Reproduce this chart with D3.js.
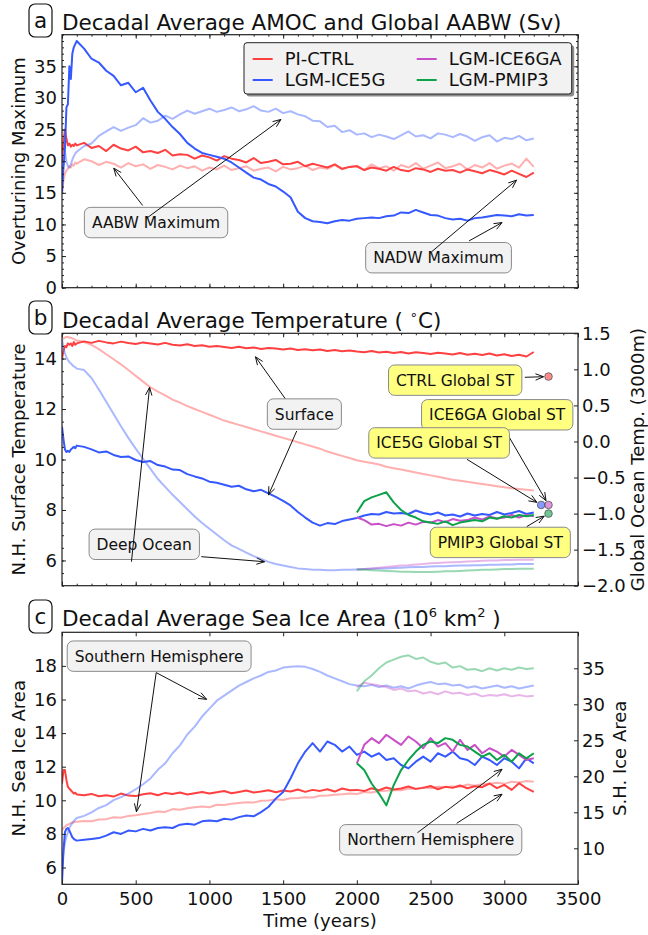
<!DOCTYPE html>
<html>
<head>
<meta charset="utf-8">
<script src="https://cdn.jsdelivr.net/npm/d3@7"></script>
<style>
  body { margin: 0; background: #fff; }
  svg { display: block; font-family: "DejaVu Sans", sans-serif; }
</style>
</head>
<body>
<svg id="chart" width="648" height="935"></svg>
<script>
// time axis of the decadal means (0-90 every 10 yr, then every 50 yr)
const years = d3.range(0, 100, 10).concat(d3.range(100, 3201, 50));
const yearsLgm = d3.range(2000, 3201, 50);

const experiments = ["PI-CTRL", "LGM-ICE5G", "LGM-ICE6GA", "LGM-PMIP3"];
const expColors = ["#ff4040", "#3558ff", "#c84fc8", "#0da14a"];

// (a) overturning maxima, Sv
const aCtrlNadw = [
  20, 23, 25, 23.5, 22.5, 22.8, 22.3, 22.6, 22.4, 22.8, 22.5,
  22.9, 22.1, 22.4, 21.6, 22.6, 22.0, 21.7, 22.3, 21.4, 21.6,
  21.3, 21.8, 20.9, 21.1, 21.0, 20.4, 20.9, 20.6, 20.1, 20.8,
  20.4, 20.2, 19.8, 20.5, 19.7, 19.9, 20.2, 19.5, 19.6, 19.9,
  19.2, 19.6, 19.3, 19.0, 19.5, 18.8, 19.1, 19.2, 18.6, 19.0,
  18.8, 18.5, 19.1, 18.6, 18.4, 18.9, 18.7, 18.3, 18.8, 18.5,
  18.6, 18.2, 18.7, 18.4, 18.1, 18.6, 18.3, 17.9, 18.5, 18.0,
  17.5, 18.2];
const aCtrlAabw = [
  15, 17, 18, 18.5, 18.8, 19.2, 19.0, 19.5, 19.3, 19.8, 19.6,
  20.3, 20.0, 19.4, 19.9, 19.6, 19.0, 19.7, 19.2, 19.5, 18.8,
  19.4, 19.1, 18.7, 19.3, 18.9, 19.2, 18.5, 19.0, 18.7, 19.3,
  18.6, 18.9, 19.2, 18.5, 18.8, 19.0, 18.4, 19.1, 18.7, 18.9,
  19.3, 18.6, 19.0, 18.8, 19.4, 18.7, 19.1, 19.3, 18.6, 19.5,
  18.9, 19.2, 18.5, 19.4, 19.0, 19.7, 18.8, 19.3, 19.8, 18.9,
  19.2, 19.6, 18.7, 19.4, 19.0, 19.7, 18.8, 19.3, 19.6, 19.0,
  20.4, 19.1];
const aIce5gNadw = [
  15, 19, 22, 28.5, 29, 35, 33, 37, 38, 38.5, 39,
  37.8, 36.2, 35.6, 34.3, 33.5, 32.0, 32.4, 30.9, 31.6, 29.6,
  27.8, 26.7, 25.4, 24.3, 22.9, 22.0, 21.3, 21.0, 20.7, 20.4,
  19.8, 19.0, 18.2, 17.4, 17.1, 16.4, 16.0, 15.2, 14.3, 12.0,
  11.0, 10.5, 10.4, 10.2, 10.5, 10.7, 10.6, 10.9, 11.0, 11.1,
  11.0, 11.3, 11.4, 11.9, 11.8, 12.3, 11.9, 11.5, 11.4, 11.0,
  10.8, 10.9, 10.6, 11.0, 11.1, 11.3, 11.5, 11.4, 11.3, 11.6,
  11.4, 11.5];
const aIce5gAabw = [
  17, 20, 21.5, 20, 19.2, 19, 19.5, 20.2, 20.8, 21.2, 21.5,
  22.4, 22.8, 24.0, 24.7, 25.4, 24.8, 25.3, 25.7, 26.8, 26.1,
  26.4, 27.2, 26.7, 27.4, 28.0, 27.5, 27.9, 28.3, 27.8, 28.1,
  28.5, 27.9, 28.2, 28.7, 28.0, 27.8, 28.3, 27.6, 27.9, 27.4,
  27.1, 26.4, 26.3, 25.4, 25.6, 24.6, 24.9, 24.2, 24.4, 23.8,
  24.2, 23.9, 23.5, 24.1, 24.7, 23.9, 24.1, 23.6, 24.4, 24.2,
  23.8, 24.3, 23.9, 23.2, 23.8, 24.1, 23.1, 23.7, 23.5, 24.0,
  23.3, 23.6];

// (b) N.H. surface temperature (left axis) and 3000 m ocean temperature (right axis)
const bCtrlSurf = [
  14.0, 14.3, 14.5, 14.45, 14.6, 14.55, 14.6, 14.5, 14.65, 14.55, 14.6,
  14.68, 14.62, 14.7, 14.64, 14.6, 14.67, 14.62, 14.58, 14.64, 14.6,
  14.56, 14.62, 14.55, 14.52, 14.57, 14.5, 14.53, 14.47, 14.5, 14.46,
  14.42, 14.47, 14.41, 14.44, 14.38, 14.42, 14.4, 14.36, 14.4, 14.34,
  14.37, 14.33, 14.36, 14.3, 14.34, 14.29, 14.32, 14.28, 14.25, 14.3,
  14.24, 14.27, 14.22, 14.26, 14.2, 14.25, 14.22, 14.18, 14.23, 14.2,
  14.16, 14.22, 14.15, 14.19, 14.14, 14.2, 14.12, 14.17, 14.1, 14.15,
  14.08, 14.26];
const bIce5gSurf = [
  11.3, 10.8, 10.4, 10.3, 10.35, 10.3, 10.4, 10.45, 10.5, 10.45, 10.55,
  10.5, 10.4, 10.28, 10.32, 10.18, 10.1, 10.12, 9.98, 9.9, 9.94,
  9.78, 9.72, 9.6, 9.58, 9.42, 9.33, 9.25, 9.12, 9.08, 9.0,
  8.92, 8.96, 8.82, 8.74, 8.8, 8.66, 8.52, 8.36, 8.18, 7.92,
  7.7, 7.5, 7.38, 7.48, 7.44, 7.56, 7.62, 7.68, 7.78, 7.84,
  7.82, 7.92, 7.86, 7.88, 7.84, 7.98, 7.88, 7.82, 7.9, 7.78,
  7.82, 7.74, 7.86, 7.78, 7.84, 7.8, 7.92, 7.82, 7.88, 7.96,
  7.84, 7.9];
const bIce6gaSurf = [7.7, 7.6, 7.42, 7.45, 7.36, 7.44, 7.38, 7.5, 7.42, 7.53, 7.5, 7.6, 7.52,
  7.64, 7.57, 7.6, 7.7, 7.62, 7.74, 7.66, 7.7, 7.8, 7.7, 7.8, 7.75];
const bPmip3Surf = [7.9, 8.35, 8.5, 8.6, 8.7, 8.3, 8.0, 7.8, 7.7, 7.55, 7.5, 7.45, 7.55,
  7.4, 7.5, 7.55, 7.6, 7.55, 7.7, 7.65, 7.75, 7.7, 7.8, 7.75, 7.8];
const bCtrlDeep = [
  1.42, 1.43, 1.44, 1.45, 1.45, 1.44, 1.44, 1.43, 1.42, 1.41, 1.40,
  1.38, 1.34, 1.28, 1.21, 1.14, 1.07, 0.99, 0.91, 0.83, 0.75,
  0.69, 0.64, 0.58, 0.54, 0.49, 0.45, 0.41, 0.37, 0.33, 0.29,
  0.26, 0.23, 0.20, 0.17, 0.14, 0.11, 0.08, 0.05, 0.02, -0.01,
  -0.04, -0.07, -0.10, -0.14, -0.17, -0.20, -0.23, -0.26, -0.28, -0.30,
  -0.32, -0.35, -0.37, -0.39, -0.41, -0.43, -0.45, -0.47, -0.49, -0.51,
  -0.53, -0.545, -0.56, -0.575, -0.59, -0.605, -0.62, -0.635, -0.65, -0.66,
  -0.67, -0.68];
const bIce5gDeep = [
  1.42, 1.3, 1.22, 1.17, 1.13, 1.10, 1.08, 1.06, 1.04, 1.03, 1.01,
  0.99, 0.88, 0.72, 0.55, 0.38, 0.21, 0.05, -0.10, -0.24, -0.38,
  -0.52, -0.63, -0.74, -0.84, -0.94, -1.04, -1.13, -1.21, -1.29, -1.37,
  -1.44, -1.49, -1.54, -1.59, -1.63, -1.67, -1.70, -1.72, -1.74, -1.76,
  -1.77, -1.78, -1.78, -1.785, -1.785, -1.78, -1.78, -1.775, -1.77, -1.765,
  -1.76, -1.76, -1.755, -1.75, -1.745, -1.74, -1.74, -1.735, -1.73, -1.73,
  -1.725, -1.72, -1.72, -1.715, -1.715, -1.71, -1.71, -1.705, -1.705, -1.70,
  -1.70, -1.70];
const bIce6gaDeep = [-1.775, -1.77, -1.76, -1.75, -1.74, -1.73, -1.72, -1.715, -1.705, -1.70,
  -1.69, -1.685, -1.68, -1.675, -1.67, -1.665, -1.66, -1.655, -1.65, -1.65, -1.645, -1.645,
  -1.64, -1.64, -1.64];
const bPmip3Deep = [-1.775, -1.78, -1.785, -1.79, -1.795, -1.80, -1.805, -1.805, -1.81, -1.81,
  -1.81, -1.805, -1.80, -1.80, -1.795, -1.79, -1.785, -1.78, -1.78, -1.775, -1.77, -1.77,
  -1.765, -1.765, -1.765];
// global surface temperature markers (right axis)
const stYears = [3300, 3250, 3300, 3300];
const stValues = [0.9, -0.88, -0.88, -1.0];

// (c) sea ice area, N.H. left axis, S.H. right axis
const cCtrlNh = [
  11.0, 11.8, 11.8, 11.2, 10.8, 10.7, 10.6, 10.5, 10.4, 10.45, 10.35,
  10.3, 10.38, 10.24, 10.3, 10.22, 10.4, 10.28, 10.25, 10.36, 10.42,
  10.3, 10.44, 10.38, 10.46, 10.34, 10.42, 10.5, 10.4, 10.48, 10.55,
  10.42, 10.5, 10.58, 10.46, 10.52, 10.6, 10.48, 10.58, 10.52, 10.64,
  10.5, 10.62, 10.56, 10.66, 10.52, 10.7, 10.6, 10.62, 10.55, 10.72,
  10.6, 10.76, 10.64, 10.7, 10.82, 10.68, 10.74, 10.85, 10.66, 10.8,
  10.74, 10.88, 10.72, 10.84, 10.78, 11.0, 10.72, 10.92, 10.62, 11.02,
  10.72, 10.5];
const cCtrlSh = [
  12.5, 12.8, 13.0, 13.2, 13.3, 13.4, 13.5, 13.6, 13.6, 13.7, 13.7,
  13.8, 13.75, 14.0, 14.05, 14.3, 14.25, 14.5, 14.6, 14.75, 14.9,
  15.1, 15.05, 15.45, 15.35, 15.55, 15.7, 15.8, 15.7, 16.05, 16.0,
  16.2, 16.3, 16.4, 16.35, 16.6, 16.65, 16.8, 16.7, 16.95, 17.0,
  17.1, 17.05, 17.3, 17.35, 17.45, 17.5, 17.6, 17.55, 17.8, 17.75,
  17.95, 18.0, 18.1, 18.05, 18.3, 18.25, 18.45, 18.35, 18.55, 18.5,
  18.6, 18.55, 18.85, 18.7, 18.9, 18.95, 19.1, 18.95, 19.25, 19.15,
  19.35, 19.25];
const cIce5gNh = [
  5.1, 7.0, 8.1, 8.3, 8.35, 8.2, 8.0, 7.8, 7.7, 7.65, 7.6,
  7.65, 7.7, 7.75, 7.9, 8.1, 8.0, 8.2, 8.15, 8.3, 8.2,
  8.35, 8.4, 8.35, 8.55, 8.6, 8.55, 8.75, 8.8, 8.75, 8.9,
  8.85, 9.0, 9.1, 9.05, 9.3, 9.6, 10.1, 10.5, 11.3, 12.2,
  12.9, 13.4, 12.9, 13.5, 13.3, 12.9, 13.2, 12.7, 12.9, 12.6,
  12.8, 12.4, 12.5, 12.1, 11.9, 12.3, 12.6, 12.3, 12.8, 12.6,
  12.9, 12.5, 12.4, 12.1, 12.6, 12.4, 12.1, 12.5, 12.3, 11.9,
  12.5, 12.2];
const cIce5gSh = [
  7.5, 9.5, 10.8, 11.6, 12.2, 12.8, 13.2, 13.5, 13.8, 14.0, 14.2,
  14.5, 15.0, 15.6, 16.0, 16.7, 17.1, 17.6, 18.2, 18.9, 19.7,
  20.9, 21.8, 23.2, 24.3, 25.8, 26.9, 28.3, 29.4, 30.5, 31.2,
  31.9, 32.6, 33.1, 33.6, 34.0, 34.5, 34.7, 35.1, 35.2, 35.3,
  35.2, 34.9, 34.5, 34.0, 33.6, 33.2, 32.8, 32.6, 32.5, 32.7,
  32.4, 32.6, 32.3, 32.5, 32.2, 32.6, 32.9, 33.1, 32.8, 32.9,
  32.6, 32.7, 32.3, 32.5, 32.2, 32.4, 32.6, 32.3, 32.5, 32.2,
  32.4, 32.6];
const cIce6gaNh = [12.2, 13.3, 13.7, 13.4, 13.9, 13.6, 13.3, 13.8, 13.5, 13.1, 13.7, 13.2, 13.4,
  12.9, 13.6, 13.0, 13.3, 12.8, 13.1, 12.9, 12.6, 13.0, 12.7, 12.4, 12.5];
const cPmip3Nh = [12.2, 11.8, 11.0, 10.4, 9.7, 10.9, 11.8, 12.4, 12.9, 13.3, 13.5, 13.4, 13.7,
  13.6, 13.3, 13.2, 12.9, 12.6, 12.8, 12.4, 12.7, 12.3, 12.8, 12.5, 12.8];
const cIce6gaSh = [32.4, 33.0, 32.8, 32.6, 32.4, 32.0, 32.2, 31.8, 31.9, 31.5, 31.7, 31.4, 31.8,
  31.5, 31.6, 31.3, 31.5, 31.1, 31.3, 31.2, 31.4, 31.1, 31.3, 31.1, 31.2];
const cPmip3Sh = [31.8, 33.2, 34.0, 35.0, 35.8, 36.2, 36.6, 36.8, 36.3, 36.5, 35.9, 35.6, 35.8,
  35.1, 35.3, 34.8, 34.9, 34.6, 35.0, 34.7, 35.0, 34.8, 35.1, 34.9, 35.0];

const xTicks = d3.range(0, 3501, 500);
const aTicks = d3.range(0, 36, 5);
const bLeftTicks = [6, 8, 10, 12, 14];
const bRightTicks = [-2, -1.5, -1, -0.5, 0, 0.5, 1, 1.5];
const cLeftTicks = [6, 8, 10, 12, 14, 16, 18];
const cRightTicks = [10, 15, 20, 25, 30, 35];

const svg = d3.select("#chart");
const x = d3.scaleLinear().domain([0, 3500]).range([62, 578]);

const panelA = { top: 34.7, bottom: 287.7 };
const panelB = { top: 333.3, bottom: 585.7 };
const panelC = { top: 632.3, bottom: 884.3 };

const yA = d3.scaleLinear().domain([0, 40]).range([panelA.bottom, panelA.top]);
const yBl = d3.scaleLinear().domain([5, 15]).range([panelB.bottom, panelB.top]);
const yBr = d3.scaleLinear().domain([-2, 1.5]).range([panelB.bottom, panelB.top]);
const yCl = d3.scaleLinear().domain([5, 20]).range([panelC.bottom, panelC.top]);
const yCr = d3.scaleLinear().domain([5, 40]).range([panelC.bottom, panelC.top]);

const fmtMinus = (f) => (d) => f(d).replace("-", "\u2212");

function clipFor(id, p) {
  svg.append("clipPath").attr("id", id)
    .append("rect").attr("x", 62).attr("y", p.top).attr("width", 516).attr("height", p.bottom - p.top);
}
clipFor("clipA", panelA);
clipFor("clipB", panelB);
clipFor("clipC", panelC);

function series(g, xs, ys, yScale, color, light) {
  const line = d3.line().x((d) => x(d[0])).y((d) => yScale(d[1]));
  g.append("path")
    .datum(d3.zip(xs, ys))
    .attr("d", line)
    .attr("fill", "none")
    .attr("stroke", color)
    .attr("stroke-width", 2)
    .attr("stroke-opacity", light ? 0.42 : 1)
    .attr("stroke-linejoin", "round");
}

function styleAxis(sel) {
  sel.select(".domain").remove();
  sel.selectAll(".tick line").attr("stroke", "#222").attr("stroke-width", 1);
  sel.selectAll(".tick text").attr("font-size", 18).attr("fill", "#111")
    .attr("font-family", "DejaVu Sans");
}

// frame: spines, inward ticks on all sides
function frame(p, cfg) {
  const g = svg.append("g");
  const bottom = g.append("g").attr("transform", `translate(0,${p.bottom})`)
    .call(d3.axisBottom(x).tickValues(xTicks).tickSize(-4).tickPadding(7.5)
      .tickFormat(cfg.xLabels ? d3.format("d") : ""));
  styleAxis(bottom);
  styleAxis(g.append("g").attr("transform", `translate(0,${p.top})`)
    .call(d3.axisTop(x).tickValues(xTicks).tickSize(-4).tickFormat("")));
  if (cfg.minorX) {
    styleAxis(g.append("g").attr("transform", `translate(0,${p.bottom})`)
      .call(d3.axisBottom(x).tickValues(d3.range(0, 3501, 100)).tickSize(-2).tickFormat("")));
    styleAxis(g.append("g").attr("transform", `translate(0,${p.top})`)
      .call(d3.axisTop(x).tickValues(d3.range(0, 3501, 100)).tickSize(-2).tickFormat("")));
  }
  styleAxis(g.append("g").attr("transform", "translate(62,0)")
    .call(d3.axisLeft(cfg.yLeft).tickValues(cfg.leftTicks).tickSize(-4).tickPadding(5)));
  if (cfg.leftMinor) {
    styleAxis(g.append("g").attr("transform", "translate(62,0)")
      .call(d3.axisLeft(cfg.yLeft).tickValues(cfg.leftMinor).tickSize(-2).tickFormat("")));
  }
  const right = g.append("g").attr("transform", "translate(578,0)");
  if (cfg.yRight) {
    right.call(d3.axisRight(cfg.yRight).tickValues(cfg.rightTicks).tickSize(-4).tickPadding(4)
      .tickFormat(cfg.rightFormat));
  } else {
    right.call(d3.axisRight(cfg.yLeft).tickValues(cfg.leftTicks).tickSize(-4).tickFormat(""));
    if (cfg.leftMinor) {
      styleAxis(g.append("g").attr("transform", "translate(578,0)")
        .call(d3.axisRight(cfg.yLeft).tickValues(cfg.leftMinor).tickSize(-2).tickFormat("")));
    }
  }
  styleAxis(right);
  g.append("rect").attr("x", 62).attr("y", p.top).attr("width", 516).attr("height", p.bottom - p.top)
    .attr("fill", "none").attr("stroke", "#222").attr("stroke-width", 1.2);
}

function panelLabel(letter, top, titleBaseline, parts) {
  svg.append("rect").attr("x", 29).attr("y", top).attr("width", 23).attr("height", 33)
    .attr("rx", 6).attr("fill", "#fff").attr("stroke", "#111").attr("stroke-width", 1.2);
  svg.append("text").attr("x", 40.5).attr("y", top + 23.5).attr("text-anchor", "middle")
    .attr("font-size", 21.5).attr("fill", "#111").text(letter);
  const t = svg.append("text").attr("x", 62).attr("y", titleBaseline)
    .attr("font-size", 21.5).attr("fill", "#111");
  parts.forEach((pt) => {
    const s = t.append("tspan").text(pt.text);
    if (pt.sup) s.attr("font-size", 13).attr("dy", -9);
    if (pt.down) s.attr("dy", 9);
  });
}

function yLabel(text, xPos, cy) {
  svg.append("text").attr("transform", `translate(${xPos},${cy}) rotate(-90)`)
    .attr("text-anchor", "middle").attr("font-size", 18).attr("fill", "#111").text(text);
}

function arrow(g, x0, y0, x1, y1, shrink) {
  const dx = x1 - x0, dy = y1 - y0, len = Math.hypot(dx, dy);
  const ux = dx / len, uy = dy / len;
  const tx = x1 - ux * shrink, ty = y1 - uy * shrink;
  g.append("line").attr("x1", x0).attr("y1", y0).attr("x2", tx).attr("y2", ty)
    .attr("stroke", "#111").attr("stroke-width", 1);
  const hl = 8, hw = 3.2;
  const bx = tx - ux * hl, by = ty - uy * hl;
  g.append("path")
    .attr("d", `M${bx - uy * hw},${by + ux * hw}L${tx},${ty}L${bx + uy * hw},${by - ux * hw}`)
    .attr("fill", "none").attr("stroke", "#111").attr("stroke-width", 1);
}

function note(n, yScale, fill) {
  const g = svg.append("g");
  const cx = x(n.x), cy = yScale(n.y);
  const rect = g.append("rect");
  const t = g.append("text").attr("x", cx).attr("y", cy).attr("dy", "0.36em")
    .attr("text-anchor", "middle").attr("font-size", 15.5).attr("fill", "#111").text(n.text);
  const w = t.node().getComputedTextLength();
  rect.attr("x", cx - w / 2 - 7.5).attr("y", cy - 15.2).attr("width", w + 15).attr("height", 30.4)
    .attr("rx", 6).attr("fill", fill).attr("stroke", "#8a8a8a").attr("stroke-width", 1);
  n.arrows.forEach((a) => arrow(g, x(a[0]), yScale(a[1]), x(a[2]), yScale(a[3]), a[4] || 0));
}

// ---------- panel a ----------
const gA = svg.append("g").attr("clip-path", "url(#clipA)");
series(gA, years, aCtrlNadw, yA, expColors[0], false);
series(gA, years, aCtrlAabw, yA, expColors[0], true);
series(gA, years, aIce5gNadw, yA, expColors[1], false);
series(gA, years, aIce5gAabw, yA, expColors[1], true);
frame(panelA, { yLeft: yA, leftTicks: aTicks, leftMinor: d3.range(0, 41, 1), minorX: true });
panelLabel("a", 4, 30, [{ text: "Decadal Average AMOC and Global AABW (Sv)" }]);
yLabel("Overturining Maximum", 25, (panelA.top + panelA.bottom) / 2);

note({ text: "AABW Maximum", x: 638, y: 10.3,
  arrows: [[547, 13.0, 351, 18.9], [575, 11.0, 1485, 26.6]] }, yA, "#f2f2f2");
note({ text: "NADW Maximum", x: 2554, y: 4.74,
  arrows: [[2508, 5.7, 3083, 17.0], [2761, 7.4, 2985, 10.3]] }, yA, "#f2f2f2");

// legend
const lg = svg.append("g");
lg.append("rect").attr("x", 246.5).attr("y", 45.2).attr("width", 327.7).attr("height", 51.3)
  .attr("rx", 3).attr("fill", "#8c8c8c");
lg.append("rect").attr("x", 244).attr("y", 42.7).attr("width", 327.7).attr("height", 51.3)
  .attr("rx", 3).attr("fill", "#f2f2f2").attr("stroke", "#222").attr("stroke-width", 1);
experiments.forEach((name, i) => {
  const col = Math.floor(i / 2), row = i % 2;
  const lx = 252.7 + col * 164, ly = 59 + row * 21;
  lg.append("line").attr("x1", lx).attr("x2", lx + 20).attr("y1", ly).attr("y2", ly)
    .attr("stroke", expColors[i]).attr("stroke-width", 2);
  lg.append("text").attr("x", lx + 32).attr("y", ly).attr("dy", "0.36em")
    .attr("font-size", 18).attr("fill", "#111").text(name);
});

// ---------- panel b ----------
const gB = svg.append("g").attr("clip-path", "url(#clipB)");
series(gB, years, bCtrlSurf, yBl, expColors[0], false);
series(gB, years, bCtrlDeep, yBr, expColors[0], true);
series(gB, years, bIce5gSurf, yBl, expColors[1], false);
series(gB, years, bIce5gDeep, yBr, expColors[1], true);
series(gB, yearsLgm, bIce6gaSurf, yBl, expColors[2], false);
series(gB, yearsLgm, bIce6gaDeep, yBr, expColors[2], true);
series(gB, yearsLgm, bPmip3Surf, yBl, expColors[3], false);
series(gB, yearsLgm, bPmip3Deep, yBr, expColors[3], true);
frame(panelB, { yLeft: yBl, leftTicks: bLeftTicks, leftMinor: d3.range(5, 15.01, 0.5), minorX: true,
  yRight: yBr, rightTicks: bRightTicks, rightFormat: fmtMinus(d3.format(".1f")) });
panelLabel("b", 301, 328, [{ text: "Decadal Average Temperature ( " }, { text: "\u2218", sup: true },
  { text: "C)", down: true }]);
yLabel("N.H. Surface Temperature", 25, (panelB.top + panelB.bottom) / 2);
yLabel("Global Ocean Temp. (3000m)", 644, (panelB.top + panelB.bottom) / 2);

note({ text: "Surface", x: 1644, y: 11.8,
  arrows: [[1513, 12.42, 1312, 14.07], [1592, 11.13, 1401, 8.6]] }, yBl, "#f2f2f2");
note({ text: "Deep Ocean", x: 558, y: 6.64,
  arrows: [[471, 5.95, 594, 12.86], [945, 6.15, 1374, 5.95]] }, yBl, "#f2f2f2");

const dots = svg.append("g");
note({ text: "CTRL Global ST", x: 2667, y: 0.85, arrows: [[3139, 0.89, stYears[0], stValues[0], 5]] }, yBr, "#ffff80");
note({ text: "ICE6GA Global ST", x: 2952, y: 0.37, arrows: [[3012, 0.135, stYears[2], stValues[2], 5]] }, yBr, "#ffff80");
note({ text: "ICE5G Global ST", x: 2558, y: -0.02, arrows: [[2747, -0.248, stYears[1], stValues[1], 5]] }, yBr, "#ffff80");
note({ text: "PMIP3 Global ST", x: 2973, y: -1.4, arrows: [[3153, -1.18, stYears[3], stValues[3], 5]] }, yBr, "#ffff80");
svg.node().appendChild(dots.node());
stYears.forEach((yr, i) => {
  dots.append("circle").attr("cx", x(yr)).attr("cy", yBr(stValues[i])).attr("r", 3.8)
    .attr("fill", expColors[i]).attr("fill-opacity", 0.6).attr("stroke", "#555").attr("stroke-width", 0.8);
});

// ---------- panel c ----------
const gC = svg.append("g").attr("clip-path", "url(#clipC)");
series(gC, years, cCtrlNh, yCl, expColors[0], false);
series(gC, years, cCtrlSh, yCr, expColors[0], true);
series(gC, years, cIce5gNh, yCl, expColors[1], false);
series(gC, years, cIce5gSh, yCr, expColors[1], true);
series(gC, yearsLgm, cIce6gaNh, yCl, expColors[2], false);
series(gC, yearsLgm, cIce6gaSh, yCr, expColors[2], true);
series(gC, yearsLgm, cPmip3Nh, yCl, expColors[3], false);
series(gC, yearsLgm, cPmip3Sh, yCr, expColors[3], true);
frame(panelC, { yLeft: yCl, leftTicks: cLeftTicks, xLabels: true,
  yRight: yCr, rightTicks: cRightTicks, rightFormat: d3.format("d") });
panelLabel("c", 600, 626, [{ text: "Decadal Average Sea Ice Area (10" }, { text: "6", sup: true },
  { text: "  km", down: true }, { text: "2", sup: true }, { text: " )", down: true }]);
yLabel("N.H. Sea Ice Area", 25, (panelC.top + panelC.bottom) / 2);
yLabel("S.H. Ice Area", 626, (panelC.top + panelC.bottom) / 2);
svg.append("text").attr("x", 320).attr("y", 927).attr("text-anchor", "middle")
  .attr("font-size", 18).attr("fill", "#111").text("Time (years)");

note({ text: "Southern Hemisphere", x: 659, y: 18.58,
  arrows: [[639, 17.6, 505, 9.32], [639, 17.6, 981, 16.01]] }, yCl, "#f2f2f2");
note({ text: "Northern Hemisphere", x: 2501, y: 7.65,
  arrows: [[2411, 8.07, 2985, 11.85], [2677, 8.63, 2985, 10.36]] }, yCl, "#f2f2f2");
</script>
</body>
</html>
